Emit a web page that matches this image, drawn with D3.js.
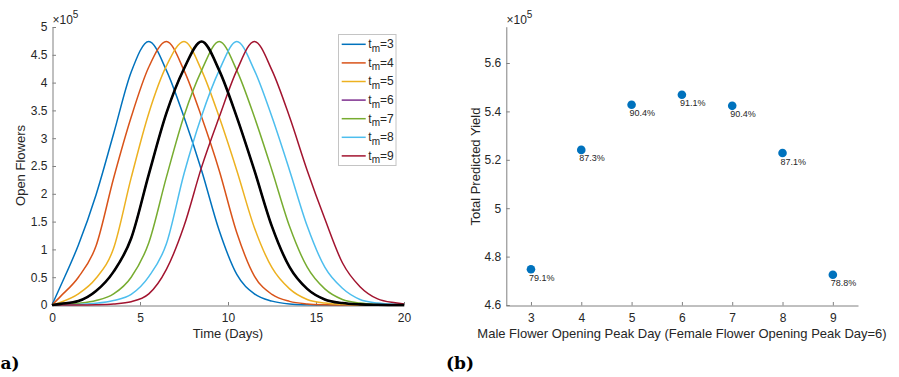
<!DOCTYPE html>
<html>
<head>
<meta charset="utf-8">
<script src="https://cdn.jsdelivr.net/npm/d3@7/dist/d3.min.js"></script>
<style>
  html, body { margin: 0; padding: 0; background: #fff; }
  svg { display: block; font-family: "Liberation Sans", Arial, Helvetica, sans-serif; }
  .panel-label { font-family: "DejaVu Serif", "Liberation Serif", serif; font-weight: bold; }
</style>
</head>
<body>
<svg id="chart" width="899" height="377"></svg>
<script>
// ---------- Data: panel (a) ----------
const days = [0, 0.5, 1.5, 2.5, 3.5, 4.5, 5.5, 6.5, 7.5, 8.5, 9.5, 10.5, 11.5, 12.5, 13.5, 14.5, 15.5, 16.5, 17.5, 18.5, 19.5, 20];
const tm3 = [0, 0.35, 1.08, 1.98, 3.08, 4.19, 4.74, 4.22, 3.38, 2.42, 1.34, 0.55, 0.2, 0.07, 0.02, 0.005, 0, 0, 0, 0, 0, 0];
const tm4 = [0, 0.16, 0.5, 1.06, 2.28, 3.38, 4.28, 4.74, 4.22, 3.38, 2.42, 1.3, 0.52, 0.19, 0.065, 0.02, 0.005, 0, 0, 0, 0, 0];
const tm5 = [0, 0.05, 0.2, 0.48, 1.02, 2.29, 3.45, 4.3, 4.74, 4.22, 3.38, 2.42, 1.39, 0.67, 0.29, 0.1, 0.035, 0.012, 0.004, 0, 0, 0];
const tm6 = [0, 0.02, 0.07, 0.25, 0.6, 1.2, 2.35, 3.45, 4.25, 4.74, 4.22, 3.38, 2.42, 1.41, 0.68, 0.29, 0.1, 0.035, 0.012, 0.004, 0, 0];
const tm7 = [0, 0.005, 0.03, 0.08, 0.2, 0.5, 1.12, 2.3, 3.4, 4.22, 4.74, 4.22, 3.38, 2.42, 1.41, 0.68, 0.29, 0.1, 0.035, 0.012, 0.004, 0];
const tm8 = [0, 0, 0.01, 0.03, 0.08, 0.19, 0.51, 1.1, 2.36, 3.4, 4.22, 4.74, 4.22, 3.38, 2.42, 1.42, 0.68, 0.3, 0.1, 0.035, 0.012, 0.007];
const tm9 = [0, 0, 0, 0.005, 0.02, 0.06, 0.2, 0.64, 1.42, 2.48, 3.38, 4.22, 4.74, 4.22, 3.38, 2.42, 1.55, 0.76, 0.33, 0.11, 0.04, 0.02];
const tmNames = ["3", "4", "5", "6", "7", "8", "9"];
const tmColors = ["#0072BD", "#D95319", "#EDB120", "#7E2F8E", "#77AC30", "#4DBEEE", "#A2142F"];
const flowerTicksX = [0, 5, 10, 15, 20];
const flowerTicksY = [0, 0.5, 1, 1.5, 2, 2.5, 3, 3.5, 4, 4.5, 5];

// ---------- Data: panel (b) ----------
const peakDays = [3, 4, 5, 6, 7, 8, 9];
const yieldValues = [4.748, 5.241, 5.4275, 5.469, 5.423, 5.228, 4.725];
const yieldPct = ["79.1%", "87.3%", "90.4%", "91.1%", "90.4%", "87.1%", "78.8%"];
const yieldTicksY = [4.6, 4.8, 5.0, 5.2, 5.4, 5.6];

const svg = d3.select("#chart");
const axisColor = "#808080";
const textColor = "#262626";

// ================= Panel (a) =================
const xA = d3.scaleLinear().domain([0, 20]).range([52, 404]);
const yA = d3.scaleLinear().domain([0, 5]).range([305, 27]);
const gA = svg.append("g");

function styleAxis(g, fontSize) {
  g.attr("font-family", null).attr("font-size", null);
  g.select(".domain").attr("stroke", axisColor).attr("stroke-width", 1);
  g.selectAll(".tick line").attr("stroke", axisColor);
  g.selectAll(".tick text").attr("fill", textColor).style("font-size", fontSize + "px");
}

const axAx = gA.append("g").attr("transform", "translate(0,305.5)")
  .call(d3.axisBottom(xA).tickValues(flowerTicksX).tickSize(-3.5).tickSizeOuter(0).tickPadding(8).tickFormat(d3.format("d")));
styleAxis(axAx, 12);
const axAy = gA.append("g").attr("transform", "translate(52.5,0)")
  .call(d3.axisLeft(yA).tickValues(flowerTicksY).tickSize(-3.5).tickSizeOuter(0).tickPadding(5).tickFormat(d => String(d)));
styleAxis(axAy, 12);

const lineA = d3.line().x((d, i) => xA(days[i])).y(d => yA(d)).curve(d3.curveMonotoneX);
const allSeries = [tm3, tm4, tm5, tm6, tm7, tm8, tm9];
allSeries.forEach((s, i) => {
  gA.append("path").attr("d", lineA(s)).attr("fill", "none")
    .attr("stroke", tmColors[i]).attr("stroke-width", 1.5);
});
// highlighted tm=6 curve drawn in black
gA.append("path").attr("d", lineA(tm6)).attr("fill", "none")
  .attr("stroke", "#000").attr("stroke-width", 2.6);

// exponent label
const expA = gA.append("text").attr("x", 52.5).attr("y", 24).attr("fill", textColor).attr("font-size", 12);
expA.append("tspan").text("×10");
expA.append("tspan").attr("dy", -6).attr("font-size", 10).text("5");

// axis labels
gA.append("text").attr("x", 228).attr("y", 337.5).attr("text-anchor", "middle")
  .attr("font-size", 13).attr("fill", textColor).text("Time (Days)");
gA.append("text").attr("transform", "translate(25,165.5) rotate(-90)").attr("text-anchor", "middle")
  .attr("font-size", 13).attr("fill", textColor).text("Open Flowers");

// legend
const leg = gA.append("g");
leg.append("rect").attr("x", 338.5).attr("y", 34.5).attr("width", 57.5).attr("height", 131)
  .attr("fill", "#fff").attr("stroke", "#c4c4c4").attr("stroke-width", 1);
tmNames.forEach((n, i) => {
  const ly = 44.3 + i * 18.6;
  leg.append("line").attr("x1", 341.7).attr("x2", 365.7).attr("y1", ly).attr("y2", ly)
    .attr("stroke", tmColors[i]).attr("stroke-width", 1.5);
  const t = leg.append("text").attr("x", 368.3).attr("y", ly + 3.8).attr("font-size", 12).attr("fill", textColor);
  t.append("tspan").text("t");
  t.append("tspan").attr("dy", 3.6).attr("font-size", 10).text("m");
  t.append("tspan").attr("dy", -3.6).text("=" + n);
});

// panel label
svg.append("text").attr("class", "panel-label").attr("x", 0.5).attr("y", 368.5)
  .attr("font-size", 17).attr("fill", "#000").text("a)");

// ================= Panel (b) =================
const xB = d3.scaleLinear().domain([2.5, 9.5]).range([505.8, 858]);
const yB = d3.scaleLinear().domain([4.6, 5.75]).range([305, 26.7]);
const gB = svg.append("g");

const axBx = gB.append("g").attr("transform", "translate(0,305.5)")
  .call(d3.axisBottom(xB).tickValues(peakDays).tickSize(-3.5).tickSizeOuter(0).tickPadding(8).tickFormat(d3.format("d")));
styleAxis(axBx, 12);
const axBy = gB.append("g").attr("transform", "translate(506.3,0)")
  .call(d3.axisLeft(yB).tickValues(yieldTicksY).tickSize(-3.5).tickSizeOuter(0).tickPadding(5)
    .tickFormat(d => (Math.abs(d - 5) < 1e-9 ? "5" : d.toFixed(1))));
styleAxis(axBy, 12);

gB.selectAll("circle.pt").data(peakDays).enter().append("circle").attr("class", "pt")
  .attr("cx", d => xB(d)).attr("cy", (d, i) => yB(yieldValues[i])).attr("r", 4.3)
  .attr("fill", "#0072BD");
gB.selectAll("text.pct").data(peakDays).enter().append("text").attr("class", "pct")
  .attr("x", d => xB(d) - 2).attr("y", (d, i) => yB(yieldValues[i]) + 11.5)
  .attr("font-size", 9).attr("fill", textColor).text((d, i) => yieldPct[i]);

const expB = gB.append("text").attr("x", 506.5).attr("y", 24).attr("fill", textColor).attr("font-size", 12);
expB.append("tspan").text("×10");
expB.append("tspan").attr("dy", -6).attr("font-size", 10).text("5");

gB.append("text").attr("x", 682).attr("y", 337.5).attr("text-anchor", "middle")
  .attr("font-size", 13).attr("fill", textColor)
  .text("Male Flower Opening Peak Day (Female Flower Opening Peak Day=6)");
gB.append("text").attr("transform", "translate(479.5,166.5) rotate(-90)").attr("text-anchor", "middle")
  .attr("font-size", 13).attr("fill", textColor).text("Total Predicted Yield");

svg.append("text").attr("class", "panel-label").attr("x", 446).attr("y", 368.5)
  .attr("font-size", 17).attr("fill", "#000").text("(b)");
</script>
</body>
</html>
